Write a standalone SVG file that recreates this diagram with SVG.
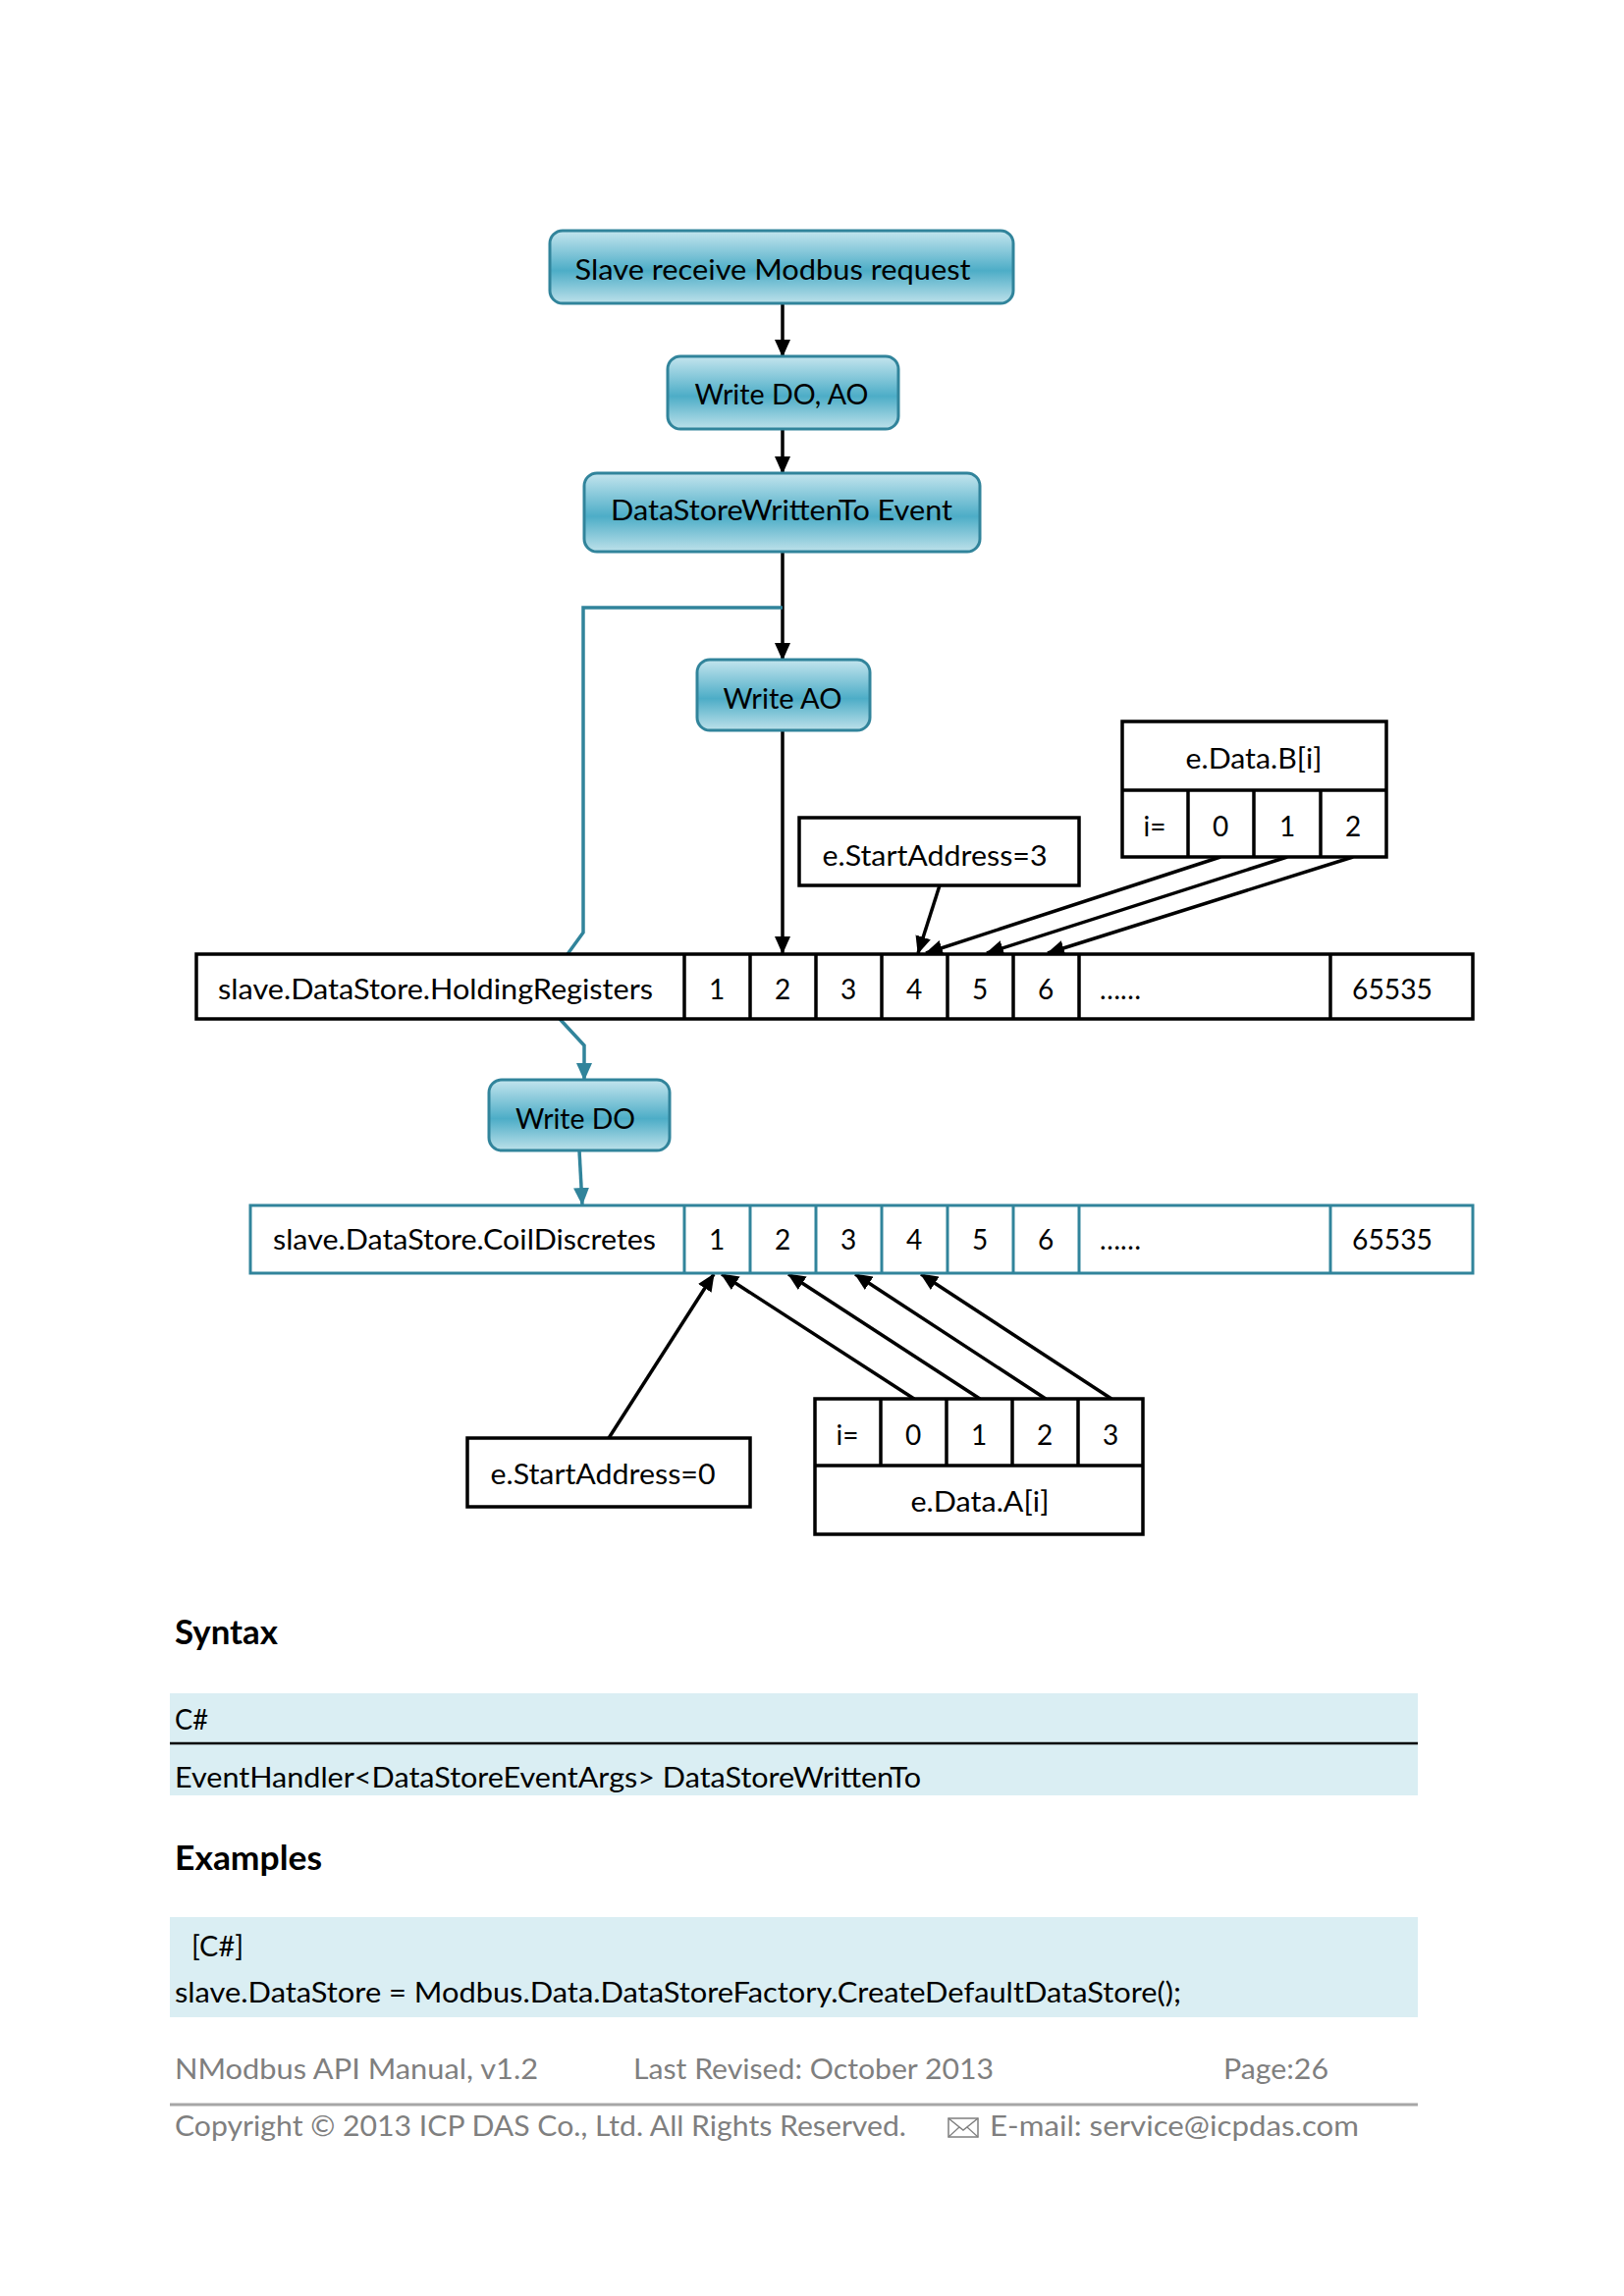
<svg xmlns="http://www.w3.org/2000/svg" width="1654" height="2339" viewBox="0 0 1654 2339">
<style>
text{font-family:Lato,"Liberation Sans",sans-serif;font-size:28px;fill:#000}
.c{text-anchor:middle}
.h{font-weight:bold;font-size:35px}
.f{fill:#7f7f7f}
.flow{fill:url(#g);stroke:#31849b;stroke-width:3}
.box{fill:#fff;stroke:#000;stroke-width:3.5}
.tbox{fill:#fff;stroke:#31849b;stroke-width:3}
.bl{stroke:#000;stroke-width:3.5;fill:none}
.tl{stroke:#31849b;stroke-width:3}
.ln{stroke:#000;stroke-width:3.5;fill:none;marker-end:url(#ab)}
.tn{stroke:#31849b;stroke-width:3.5;fill:none}
.ta{marker-end:url(#at)}
</style>
<defs>
<linearGradient id="g" x1="0" y1="0" x2="0" y2="1">
<stop offset="0" stop-color="#c4e5ee"/>
<stop offset="0.55" stop-color="#4dadc7"/>
<stop offset="1" stop-color="#bde1ea"/>
</linearGradient>
<marker id="ab" markerUnits="userSpaceOnUse" markerWidth="18" markerHeight="16" refX="17" refY="8" orient="auto">
<path d="M0,0 L18,8 L0,16 z" fill="#000"/>
</marker>
<marker id="at" markerUnits="userSpaceOnUse" markerWidth="18" markerHeight="16" refX="17" refY="8" orient="auto">
<path d="M0,0 L18,8 L0,16 z" fill="#31849b"/>
</marker>
</defs>
<rect width="1654" height="2339" fill="#fff"/>

<g id="connectors">
<line class="ln" x1="797" y1="309" x2="797" y2="363"/>
<line class="ln" x1="797" y1="437" x2="797" y2="482"/>
<line class="ln" x1="797" y1="562" x2="797" y2="672"/>
<line class="ln" x1="797" y1="744" x2="797" y2="971"/>
<polyline class="tn" points="797,619 594,619 594,950 578,972"/>
<polyline class="tn ta" points="570,1038 595,1065 595,1100"/>
<line class="tn ta" x1="590" y1="1172" x2="593" y2="1227"/>
<line class="ln" x1="957" y1="902" x2="935" y2="971"/>
<line class="ln" x1="1243" y1="873" x2="943" y2="971"/>
<line class="ln" x1="1311" y1="873" x2="1005" y2="971"/>
<line class="ln" x1="1378" y1="873" x2="1067" y2="971"/>
<line class="ln" x1="620" y1="1465" x2="727" y2="1298"/>
<line class="ln" x1="931" y1="1425" x2="735" y2="1298"/>
<line class="ln" x1="998" y1="1425" x2="803" y2="1298"/>
<line class="ln" x1="1065" y1="1425" x2="871" y2="1298"/>
<line class="ln" x1="1132" y1="1425" x2="938" y2="1298"/>
</g>

<g id="n-slave-receive">
<rect class="flow" x="560" y="235" width="472" height="74" rx="13"/>
<text class="c" x="787" y="285" textLength="403" lengthAdjust="spacingAndGlyphs">Slave receive Modbus request</text>
</g>
<g id="n-write-do-ao">
<rect class="flow" x="680" y="363" width="235" height="74" rx="13"/>
<text class="c" x="796" y="412" textLength="177" lengthAdjust="spacingAndGlyphs">Write DO, AO</text>
</g>
<g id="n-event">
<rect class="flow" x="595" y="482" width="403" height="80" rx="13"/>
<text class="c" x="796" y="530" textLength="348" lengthAdjust="spacingAndGlyphs">DataStoreWrittenTo Event</text>
</g>
<g id="n-write-ao">
<rect class="flow" x="710" y="672" width="176" height="72" rx="13"/>
<text class="c" x="797" y="722" textLength="121" lengthAdjust="spacingAndGlyphs">Write AO</text>
</g>
<g id="n-write-do">
<rect class="flow" x="498" y="1100" width="184" height="72" rx="13"/>
<text class="c" x="586" y="1150" textLength="122" lengthAdjust="spacingAndGlyphs">Write DO</text>
</g>

<g id="n-startaddress3">
<rect class="box" x="814" y="833" width="285" height="69"/>
<text class="c" x="952" y="882" textLength="229" lengthAdjust="spacingAndGlyphs">e.StartAddress=3</text>
</g>

<g id="n-data-b">
<rect class="box" x="1143" y="735" width="269" height="138"/>
<line class="bl" x1="1143" y1="805" x2="1412" y2="805"/>
<line class="bl" x1="1210" y1="805" x2="1210" y2="873"/>
<line class="bl" x1="1277" y1="805" x2="1277" y2="873"/>
<line class="bl" x1="1345" y1="805" x2="1345" y2="873"/>
<text class="c" x="1277" y="783" textLength="139" lengthAdjust="spacingAndGlyphs">e.Data.B[i]</text>
<text class="c" x="1176" y="852">i=</text>
<text class="c" x="1243" y="852">0</text>
<text class="c" x="1311" y="852">1</text>
<text class="c" x="1378" y="852">2</text>
</g>

<g id="n-holding">
<rect class="box" x="200" y="972" width="1300" height="66"/>
<line class="bl" x1="697" y1="972" x2="697" y2="1038"/>
<line class="bl" x1="764" y1="972" x2="764" y2="1038"/>
<line class="bl" x1="831" y1="972" x2="831" y2="1038"/>
<line class="bl" x1="898" y1="972" x2="898" y2="1038"/>
<line class="bl" x1="965" y1="972" x2="965" y2="1038"/>
<line class="bl" x1="1032" y1="972" x2="1032" y2="1038"/>
<line class="bl" x1="1099" y1="972" x2="1099" y2="1038"/>
<line class="bl" x1="1355" y1="972" x2="1355" y2="1038"/>
<text x="222" y="1018" textLength="443" lengthAdjust="spacingAndGlyphs">slave.DataStore.HoldingRegisters</text>
<text class="c" x="730" y="1018">1</text>
<text class="c" x="797" y="1018">2</text>
<text class="c" x="864" y="1018">3</text>
<text class="c" x="931" y="1018">4</text>
<text class="c" x="998" y="1018">5</text>
<text class="c" x="1065" y="1018">6</text>
<text x="1120" y="1018" textLength="42" lengthAdjust="spacingAndGlyphs">……</text>
<text x="1377" y="1018" textLength="82" lengthAdjust="spacingAndGlyphs">65535</text>
</g>

<g id="n-coil">
<rect class="tbox" x="255" y="1228" width="1245" height="69"/>
<line class="tl" x1="697" y1="1228" x2="697" y2="1297"/>
<line class="tl" x1="764" y1="1228" x2="764" y2="1297"/>
<line class="tl" x1="831" y1="1228" x2="831" y2="1297"/>
<line class="tl" x1="898" y1="1228" x2="898" y2="1297"/>
<line class="tl" x1="965" y1="1228" x2="965" y2="1297"/>
<line class="tl" x1="1032" y1="1228" x2="1032" y2="1297"/>
<line class="tl" x1="1099" y1="1228" x2="1099" y2="1297"/>
<line class="tl" x1="1355" y1="1228" x2="1355" y2="1297"/>
<text x="278" y="1273" textLength="390" lengthAdjust="spacingAndGlyphs">slave.DataStore.CoilDiscretes</text>
<text class="c" x="730" y="1273">1</text>
<text class="c" x="797" y="1273">2</text>
<text class="c" x="864" y="1273">3</text>
<text class="c" x="931" y="1273">4</text>
<text class="c" x="998" y="1273">5</text>
<text class="c" x="1065" y="1273">6</text>
<text x="1120" y="1273" textLength="42" lengthAdjust="spacingAndGlyphs">……</text>
<text x="1377" y="1273" textLength="82" lengthAdjust="spacingAndGlyphs">65535</text>
</g>

<g id="n-startaddress0">
<rect class="box" x="476" y="1465" width="288" height="70"/>
<text class="c" x="614" y="1512" textLength="229" lengthAdjust="spacingAndGlyphs">e.StartAddress=0</text>
</g>

<g id="n-data-a">
<rect class="box" x="830" y="1425" width="334" height="138"/>
<line class="bl" x1="830" y1="1493" x2="1164" y2="1493"/>
<line class="bl" x1="897" y1="1425" x2="897" y2="1493"/>
<line class="bl" x1="964" y1="1425" x2="964" y2="1493"/>
<line class="bl" x1="1031" y1="1425" x2="1031" y2="1493"/>
<line class="bl" x1="1098" y1="1425" x2="1098" y2="1493"/>
<text class="c" x="863" y="1472">i=</text>
<text class="c" x="930" y="1472">0</text>
<text class="c" x="997" y="1472">1</text>
<text class="c" x="1064" y="1472">2</text>
<text class="c" x="1131" y="1472">3</text>
<text class="c" x="998" y="1540" textLength="141" lengthAdjust="spacingAndGlyphs">e.Data.A[i]</text>
</g>

<g id="syntax">
<text class="h" x="178" y="1675" textLength="105" lengthAdjust="spacingAndGlyphs">Syntax</text>
<rect x="173" y="1725" width="1271" height="104" fill="#daeef3"/>
<line x1="173" y1="1776" x2="1444" y2="1776" stroke="#000" stroke-width="2.5"/>
<text x="178" y="1762" textLength="34" lengthAdjust="spacingAndGlyphs">C#</text>
<text x="178" y="1821" textLength="760" lengthAdjust="spacingAndGlyphs">EventHandler&lt;DataStoreEventArgs&gt; DataStoreWrittenTo</text>
</g>

<g id="examples">
<text class="h" x="178" y="1905" textLength="150" lengthAdjust="spacingAndGlyphs">Examples</text>
<rect x="173" y="1953" width="1271" height="102" fill="#daeef3"/>
<text x="195" y="1993" textLength="53" lengthAdjust="spacingAndGlyphs">[C#]</text>
<text x="178" y="2040" textLength="1025" lengthAdjust="spacingAndGlyphs">slave.DataStore = Modbus.Data.DataStoreFactory.CreateDefaultDataStore();</text>
</g>

<g id="footer">
<text class="f" x="178" y="2118" textLength="370" lengthAdjust="spacingAndGlyphs">NModbus API Manual, v1.2</text>
<text class="f" x="645" y="2118" textLength="367" lengthAdjust="spacingAndGlyphs">Last Revised: October 2013</text>
<text class="f" x="1246" y="2118" textLength="107" lengthAdjust="spacingAndGlyphs">Page:26</text>
<line x1="173" y1="2144" x2="1444" y2="2144" stroke="#a6a6a6" stroke-width="3"/>
<text class="f" x="178" y="2176" textLength="745" lengthAdjust="spacingAndGlyphs">Copyright © 2013 ICP DAS Co., Ltd. All Rights Reserved.</text>
<rect x="966" y="2158" width="30" height="19" fill="none" stroke="#7f7f7f" stroke-width="1.5"/>
<polyline points="966,2158 981,2170 996,2158" fill="none" stroke="#7f7f7f" stroke-width="1.5"/>
<polyline points="966,2177 977,2167 M985,2167" fill="none" stroke="#7f7f7f" stroke-width="1.2"/>
<line x1="996" y1="2177" x2="985" y2="2167" stroke="#7f7f7f" stroke-width="1.2"/>
<text class="f" x="1008" y="2176" textLength="376" lengthAdjust="spacingAndGlyphs">E-mail: service@icpdas.com</text>
</g>
</svg>
